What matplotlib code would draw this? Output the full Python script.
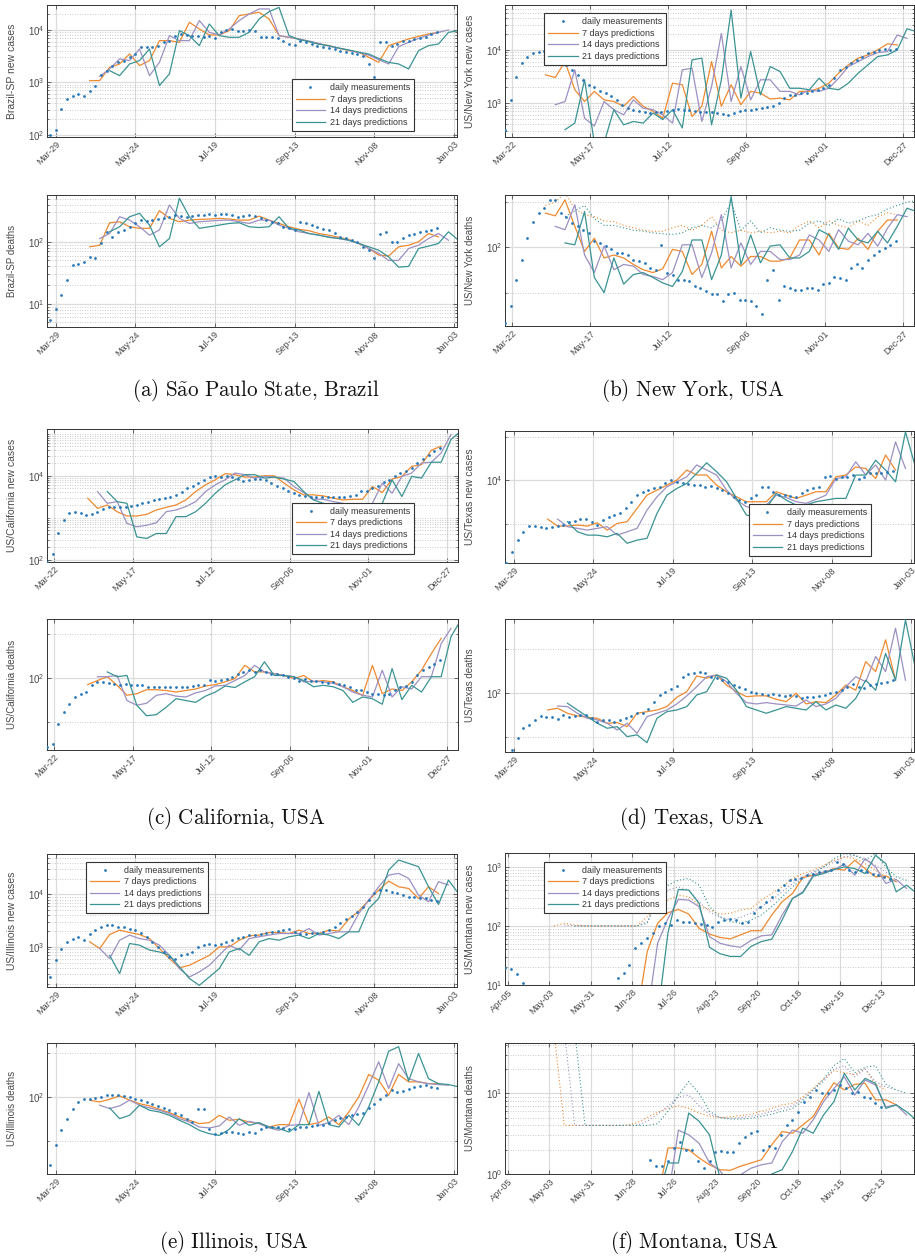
import numpy as np
import matplotlib
matplotlib.use("Agg")
import matplotlib.pyplot as plt
import matplotlib.dates as mdates
from matplotlib.lines import Line2D
from matplotlib.ticker import FixedLocator, NullFormatter, LogLocator

nan = np.nan

# ---------------- data ----------------
# measurements every 4 days, predictions every 7 days

# (a) Sao Paulo State
sp_cases_start = "2020-03-25"
sp_cases = [100, 120, 310, 480, 556, 600, 556, 690, 840, 1400, 1670, 2090, 2410, 2600, 3000, 3480,
            4660, 4660, 4800, 5000, 6000, 6250, 7800, 8400, 8000, 7800, 7560, 7240, 7800, 7000,
            9300, 10100, 10450, 9700, 9400, 10100, 9700, 7240, 7450, 7240, 6930, 6250, 5400, 5250,
            6080, 5810, 5400, 5020, 4660, 4530, 4330, 4030, 3750, 3590, 3480, 3140, 2240, 1250,
            5810, 5810, 5020, 5400, 6250, 6250, 6730, 6930, 7450, 8400, 9000]
sp_cases_p7_start = "2020-04-22"
sp_cases_p7 = [1077, 1077, 1937, 2240, 3480, 2090, 2600, 6250, 6250, 5810, 14000, 10450, 8030, 8030,
               9710, 18800, 20200, 21800, 16200, 7790, 7240, 6730, 6000, 5400, 5020, 4460, 4030,
               3750, 3000, 2410, 5020, 5810, 6730, 7560, 8400, 9000]
sp_cases_p14_start = "2020-04-29"
sp_cases_p14 = [1300, 1800, 2800, 2600, 4330, 1340, 2410, 7790, 6250, 6250, 15100, 9000, 8030, 10450,
                15100, 20200, 25200, 25200, 7790, 7240, 6730, 6160, 5560, 4900, 4500, 4100, 3700,
                3300, 2700, 2240, 4800, 5800, 6900, 8000, 9000, 10000]
sp_cases_p21_start = "2020-05-06"
sp_cases_p21 = [1670, 1340, 2240, 2600, 4330, 867, 1450, 9710, 7790, 5020, 13000, 7790, 7240, 7240,
                9000, 16200, 22400, 27000, 7800, 6540, 6000, 5330, 5000, 4500, 4150, 3750, 3480,
                2860, 2400, 2240, 1800, 4030, 5020, 5400, 9000, 9700]

sp_deaths_start = "2020-03-25"
sp_deaths = [5.4, 8.3, 13.7, 23.9, 41.9, 44.5, 47, 57, 54, 94, 145, 120, 145, 155, 175, 198, 224, 219,
             224, 230, 239, 254, 270, 260, 254, 260, 270, 270, 277, 270, 277, 277, 270, 254, 260, 270,
             260, 239, 224, 211, 203, 175, 165, 155, 211, 198, 186, 175, 159, 155, 140, 120, 113, 106,
             100, 83, 73, 54, 136, 145, 100, 100, 113, 128, 136, 145, 151, 155, 165]
sp_deaths_p7_start = "2020-04-22"
sp_deaths_p7 = [83, 88, 203, 211, 175, 165, 165, 318, 239, 211, 224, 230, 233, 239, 233, 224, 224, 260,
                224, 198, 175, 159, 151, 136, 128, 118, 109, 94, 78, 61, 59, 83, 88, 100, 136, 120]
sp_deaths_p14_start = "2020-04-29"
sp_deaths_p14 = [113, 136, 254, 224, 175, 128, 155, 393, 239, 198, 211, 216, 222, 224, 211, 198, 224, 224,
                 186, 165, 145, 136, 128, 120, 113, 106, 94, 78, 65, 50, 50, 78, 88, 113, 136, 106]
sp_deaths_p21_start = "2020-05-06"
sp_deaths_p21 = [145, 175, 254, 288, 186, 83, 113, 505, 254, 165, 175, 186, 198, 203, 175, 170, 175, 254,
                 165, 155, 136, 128, 118, 113, 106, 94, 83, 73, 57, 39, 40, 78, 85, 94, 145, 106]

# (b) New York
ny_cases_start = "2020-03-17"
ny_cases = [316, 1150, 3160, 5620, 7500, 8660, 9300, 9700, 8660, 7500, 6500, 5230, 4220, 3400, 2740,
            2210, 2000, 1660, 1540, 1330, 1150, 930, 800, 750, 700, 670, 650, 670, 670, 700, 750, 770,
            750, 730, 700, 680, 680, 670, 650, 630, 600, 650, 700, 730, 750, 770, 800, 840, 870, 1000,
            1240, 1430, 1430, 1540, 1580, 1660, 1780, 1900, 2210, 2940, 4220, 4870, 5620, 6490, 7290,
            8660, 9300, 10000, 10300, 10000, 10300]
ny_cases_p7_start = "2020-04-15"
ny_cases_p7 = [3400, 3030, 6040, 1780, 1070, 1660, 1150, 1070, 870, 1330, 870, 700, 520, 2370, 2210,
               560, 870, 6040, 870, 2210, 930, 1660, 1540, 1190, 1240, 1150, 1660, 1660, 1900, 2370,
               3650, 5230, 6980, 8060, 10000, 13000, 12400]
ny_cases_p14_start = "2020-04-22"
ny_cases_p14 = [930, 1070, 4220, 520, 370, 1070, 750, 600, 1150, 800, 750, 600, 420, 4220, 4530, 450,
                2050, 20500, 1070, 4870, 1150, 2740, 2740, 1660, 1660, 1430, 1780, 1660, 1900, 2940,
                4870, 6040, 7500, 8910, 9300, 19100, 16500]
ny_cases_p21_start = "2020-04-29"
ny_cases_p21 = [316, 420, 2740, 180, 180, 750, 390, 450, 420, 650, 490, 750, 340, 6490, 7000, 390, 2740,
                56000, 1240, 9300, 1430, 4870, 3930, 1900, 1900, 1780, 2940, 1900, 1780, 2370, 3650,
                5230, 7500, 8060, 10000, 25000, 22000]

ny_deaths_start = "2020-03-17"
ny_deaths = [31.5, 40.6, 61, 83, 115, 148, 169, 182, 207, 207, 169, 160, 145, 138, 131, 125, 110, 107,
             102, 97, 92, 92, 89, 83, 81, 79, 73, 71, 104, 68, 66, 61, 61, 60, 55, 54, 51, 49, 49, 44,
             49, 50, 45, 45, 44, 41, 36, 61, 71, 45, 55, 54, 52, 52, 54, 54, 52, 57, 58, 64, 63, 61,
             73, 77, 73, 83, 89, 94, 99, 104, 110]
ny_deaths_p7_start = "2020-04-15"
ny_deaths_p7 = [169, 162, 207, 138, 94, 115, 85, 89, 85, 77, 71, 68, 72, 97, 94, 66, 77, 128, 73, 87, 75,
                87, 87, 81, 81, 85, 112, 112, 89, 124, 99, 97, 115, 97, 128, 152, 152]
ny_deaths_p14_start = "2020-04-22"
ny_deaths_p14 = [138, 131, 192, 89, 68, 102, 71, 77, 75, 66, 64, 61, 68, 104, 104, 63, 92, 165, 73, 107,
                 77, 94, 94, 83, 83, 89, 121, 112, 94, 131, 110, 104, 124, 102, 134, 165, 160]
ny_deaths_p21_start = "2020-04-29"
ny_deaths_p21 = [107, 104, 173, 63, 50, 85, 57, 66, 68, 63, 58, 55, 69, 112, 112, 61, 89, 218, 77, 121,
                 79, 102, 104, 85, 85, 94, 131, 121, 97, 134, 112, 107, 128, 107, 138, 182, 173]
ny_deaths_d7_start = "2020-04-15"
ny_deaths_d7 = [190, 200, 230, 180, 165, 160, 150, 148, 140, 135, 130, 128, 128, 135, 140, 130, 140, 160,
                130, 125, 130, 125, 128, 125, 128, 125, 140, 150, 135, 150, 140, 135, 150, 140, 160, 170, 165]
ny_deaths_d21_start = "2020-04-29"
ny_deaths_d21 = [160, 175, 190, 155, 140, 140, 135, 130, 128, 125, 123, 122, 125, 135, 140, 135, 150, 200,
                 130, 150, 125, 135, 130, 128, 130, 145, 150, 140, 155, 145, 150, 160, 165, 180, 190, 200, 205]

# (c) California
ca_cases_start = "2020-03-17"
ca_cases = [88, 140, 421, 880, 1270, 1390, 1270, 1160, 1220, 1390, 1580, 1770, 1840, 1770, 1770, 1900,
            2000, 2200, 2420, 2650, 2750, 2920, 3200, 3500, 4200, 5060, 5750, 6670, 7730, 9290, 9650,
            9290, 9650, 9290, 8320, 7310, 8010, 8320, 8320, 7730, 6670, 5550, 5060, 4450, 3830, 3500,
            3310, 3190, 3080, 3190, 3190, 3080, 3080, 3190, 3310, 3500, 4450, 4450, 5060, 5750, 6920,
            8010, 9650, 11600, 12700, 15300, 20100, 25100, 31900, 38400, 46100]
ca_cases_p7_start = "2020-04-15"
ca_cases_p7 = [2920, 1670, 2010, 1390, 1100, 1100, 1200, 1530, 1770, 2010, 2650, 4200, 6080, 8010, 11200,
               10600, 9290, 9290, 10000, 10000, 6670, 4610, 3500, 3500, 3310, 2920, 2650, 2750, 2750,
               5550, 3980, 8320, 9650, 16700, 18400, 40600, 50700]
ca_cases_p14_start = "2020-04-22"
ca_cases_p14 = [4200, 2200, 2420, 730, 610, 660, 760, 1390, 1530, 1840, 2420, 4200, 6080, 8010, 11600,
                10600, 8790, 9650, 9290, 8790, 5550, 3980, 2750, 2750, 2420, 2200, 2010, 1670, 2200,
                6670, 3830, 9650, 11600, 20100, 21000, 35000, 96000]
ca_cases_p21_start = "2020-04-29"
ca_cases_p21 = [4200, 2420, 2200, 350, 320, 420, 420, 1060, 1060, 1390, 2200, 3830, 6080, 8010, 10600,
                10600, 8790, 9290, 8320, 7310, 4200, 2650, 2200, 2010, 1840, 1670, 1530, 1270, 2200, 8010,
                3190, 9650, 8790, 21000, 21000, 73000, 116000]

ca_deaths_start = "2020-03-17"
ca_deaths = [33.5, 35.3, 48.4, 58, 66, 74, 78, 80, 89, 94, 94, 92, 91, 90, 91, 90, 89, 90, 87, 87, 86,
             87, 86, 86, 86, 87, 88, 89, 90, 97, 96, 97, 99, 102, 106, 110, 113, 110, 113, 110, 107,
             106, 104, 102, 100, 96, 99, 96, 95, 94, 92, 94, 91, 89, 86, 83, 83, 80, 78, 78, 76, 78,
             82, 87, 88, 94, 104, 113, 119, 125, 132]
ca_deaths_p7_start = "2020-04-15"
ca_deaths_p7 = [90, 96, 102, 89, 76, 78, 83, 83, 82, 80, 82, 84, 88, 90, 94, 99, 122, 110, 110, 107, 104,
                99, 104, 94, 96, 94, 87, 82, 76, 122, 78, 84, 82, 94, 113, 147, 187]
ca_deaths_p14_start = "2020-04-22"
ca_deaths_p14 = [102, 102, 104, 70, 65, 67, 76, 78, 75, 74, 79, 82, 88, 89, 96, 104, 122, 110, 107, 104,
                 102, 94, 95, 94, 92, 87, 80, 76, 74, 113, 74, 87, 84, 102, 102, 172, 219]
ca_deaths_p21_start = "2020-04-29"
ca_deaths_p21 = [110, 102, 104, 65, 55, 56, 63, 72, 70, 68, 75, 80, 88, 86, 94, 102, 129, 104, 104, 102,
                 96, 87, 89, 87, 82, 68, 74, 72, 66, 116, 71, 89, 80, 102, 102, 192, 250]

# (d) Texas
tx_cases_start = "2020-03-24"
tx_cases = [2660, 3210, 3860, 4410, 4830, 4830, 4730, 4660, 4780, 4830, 4910, 5180, 5260, 5370, 5370,
            5180, 4910, 5310, 5610, 5750, 5910, 6400, 7120, 7910, 8350, 8570, 8800, 9040, 9530, 10050,
            9790, 9530, 9430, 9280, 9280, 9040, 9130, 8800, 8570, 8130, 7700, 7310, 7120, 7510, 7910,
            9040, 8950, 8350, 7910, 7910, 7790, 7700, 8130, 8570, 8800, 9040, 10600, 10700, 10300,
            10500, 10600, 10900, 10300, 10600, 11200, 11300, 11200, 11500, 11700]
tx_cases_p7_start = "2020-04-22"
tx_cases_p7 = [5400, 4830, 4830, 4910, 4830, 5090, 4530, 5040, 5180, 6400, 7910, 8570, 9280, 10050, 11800,
               10900, 10900, 9280, 8350, 7700, 7120, 7120, 7120, 8350, 7910, 7510, 7910, 8350, 8350,
               10600, 10900, 12400, 12100, 10300, 15000, 11800]
tx_cases_p14_start = "2020-04-29"
tx_cases_p14 = [5400, 4780, 4660, 4530, 4660, 4780, 4180, 4410, 4660, 6230, 7700, 9040, 9790, 10600,
                12800, 11800, 10900, 8570, 7310, 6580, 6400, 6760, 7910, 7620, 7120, 6940, 7390, 7910,
                10300, 10600, 13460, 10900, 12800, 10050, 18500, 12100]
tx_cases_p21_start = "2020-05-06"
tx_cases_p21 = [5180, 4410, 4180, 4180, 4070, 4300, 3670, 3860, 3970, 5910, 7910, 8800, 9530, 11200,
                13250, 11500, 9790, 7510, 5750, 5610, 6400, 8130, 7310, 6760, 6760, 7120, 7310, 7510,
                7510, 10900, 10900, 13800, 11800, 9790, 21700, 12400]

tx_deaths_start = "2020-03-28"
tx_deaths = [40.8, 49, 57.5, 60.6, 65.6, 69.9, 69.1, 69.1, 66.3, 71, 68.4, 69.9, 71, 71, 67.3, 63.9, 65.6,
             65.6, 63.9, 65.6, 67.3, 69.9, 72.9, 72.9, 77.6, 87.6, 97.4, 102.6, 106.5, 112, 130, 136.6,
             137, 141, 137, 130, 127, 123, 120, 114, 110, 106.5, 102.6, 100, 99, 97.4, 99, 97.4, 96, 97.4,
             96, 92.4, 94, 94, 96, 97.4, 100, 102.6, 105, 110, 116, 111, 108, 114, 116, 117, 120, 123]
tx_deaths_p7_start = "2020-04-22"
tx_deaths_p7 = [76.8, 78.9, 72.9, 69.9, 68.4, 67.3, 62.2, 62.9, 59, 72.9, 74.8, 76.8, 81, 94, 102.6, 131.5,
                127, 133.6, 114, 102.6, 94.9, 96, 96, 90.9, 87.6, 100, 84.5, 87.6, 86.3, 97.4, 114, 105,
                165, 141, 233, 123]
tx_deaths_p14_start = "2020-04-29"
tx_deaths_p14 = [81.8, 81, 72.9, 67.3, 65.6, 62.2, 56, 62.2, 53.1, 69.1, 72.9, 76.8, 84.5, 96, 111, 130,
                 133.6, 120, 100, 86.3, 84.5, 86.3, 84.5, 83.1, 81.8, 90, 81, 84.5, 92.4, 111, 130, 120,
                 179, 141, 280, 123]
tx_deaths_p21_start = "2020-05-06"
tx_deaths_p21 = [85.4, 76.8, 69.1, 62.2, 57.5, 59, 50.4, 51.8, 45.8, 67.3, 74.8, 76.8, 81, 97.4, 102.6,
                 133.6, 127, 105, 81, 76.8, 72.9, 76.8, 81, 78.9, 76.8, 87.6, 76.8, 83.1, 78.9, 92.4, 123,
                 105, 188, 123, 319, 148]

# (e) Illinois
il_cases_start = "2020-03-25"
il_cases = [267, 556, 930, 1250, 1440, 1560, 1340, 1800, 2090, 2410, 2600, 2600, 2410, 2410, 2170, 2090,
            1880, 1560, 1250, 1000, 800, 640, 600, 690, 740, 800, 1000, 1080, 1160, 1080, 1160, 1250,
            1340, 1490, 1560, 1680, 1720, 1800, 1880, 1940, 2000, 2090, 2240, 1940, 1800, 1800, 1880,
            1880, 1940, 2090, 2410, 2800, 3380, 3910, 4660, 5810, 7790, 10450, 12100, 12100, 11200,
            10450, 9710, 9020, 9020, 8640, 8390, 7790, 7460]
il_cases_p7_start = "2020-04-22"
il_cases_p7 = [1250, 930, 1720, 2090, 1880, 1720, 1440, 930, 600, 400, 445, 556, 690, 1000, 1000, 1340,
               1620, 1680, 1880, 1880, 1800, 2090, 1800, 1800, 2090, 2000, 3380, 4810, 7790, 12100, 17970,
               14000, 13000, 8390, 14000, 10450]
il_cases_p14_start = "2020-04-29"
il_cases_p14 = [930, 600, 1340, 1680, 1440, 1340, 1080, 690, 385, 267, 334, 445, 690, 1080, 870, 1440,
                1560, 1680, 1800, 1800, 1800, 2240, 1680, 1800, 1940, 1940, 4330, 7790, 14000, 23400,
                25200, 20200, 9710, 7240, 17500, 15100]
il_cases_p21_start = "2020-05-06"
il_cases_p21 = [690, 310, 1160, 1080, 870, 800, 690, 420, 250, 185, 267, 385, 800, 930, 690, 1250, 1440,
                1340, 1560, 1680, 1440, 1800, 1680, 1440, 1940, 1940, 5400, 8390, 29100, 45300, 39100,
                33800, 14000, 6450, 18800, 10450]

il_deaths_start = "2020-03-25"
il_deaths = [34.3, 46.9, 59.3, 71.2, 83.3, 92.5, 96.4, 97.4, 98.4, 100, 102.6, 103.7, 103.7, 101.6, 100,
             97.4, 95, 92.5, 90, 86.9, 84.2, 81.2, 78.3, 75, 71.2, 67.6, 82.4, 82.4, 60.9, 56.3, 57.1,
             57.8, 57.8, 57.1, 56.3, 57.8, 57.1, 60.9, 62.5, 62.5, 62.5, 61.6, 60.9, 60.3, 62.5, 62.5,
             63.5, 64.1, 64.8, 66.9, 69.4, 72, 73.1, 75.8, 77, 78.3, 84.2, 90, 97.4, 102.6, 111, 108,
             109, 114, 117, 119, 120, 117, 115]
il_deaths_p7_start = "2020-04-22"
il_deaths_p7 = [95, 92.5, 96.4, 101.6, 95, 90, 86.9, 82.4, 78.3, 73.1, 69.4, 65.9, 66.9, 75, 69.4, 70.4,
                67.6, 65.9, 62.5, 64.8, 64.8, 96.4, 64.8, 66.9, 73.1, 64.8, 79, 100, 142, 129.8, 102.6,
                142, 126.5, 126.5, 123, 123]
il_deaths_p14_start = "2020-04-29"
il_deaths_p14 = [87.8, 83.3, 86.9, 95, 87.8, 84.2, 81.2, 77, 71.2, 67.6, 62.5, 61.6, 63.5, 73.1, 64.1,
                 68.3, 65.9, 61.6, 59.3, 64.1, 64.8, 107, 64.1, 66.9, 75, 64.8, 85.5, 120, 173, 114, 168,
                 133, 126.5, 123, 121.3, 120]
il_deaths_p21_start = "2020-05-06"
il_deaths_p21 = [84.2, 71.2, 75, 87.8, 81.2, 79, 75, 69.4, 64.8, 59.3, 56.3, 54.8, 60.3, 71.2, 64.1, 66.9,
                 62.5, 60.9, 57.8, 64.8, 64.8, 109, 64.8, 62.5, 75, 64.1, 85.5, 126.5, 204, 219, 128, 197,
                 133, 123, 121.3, 117]

# (f) Montana
mt_cases_start = "2020-04-03"
mt_cases = [19.4, 18.5, 15.5, 11, nan, nan, nan, nan, nan, nan, nan, nan, nan, nan, nan, nan, nan, nan,
            nan, 13.2, 16.1, 21.9, 42.3, 51, 62, 75, 100, 111, 104, 126, 118, 118, 114, 108, 104, 95,
            118, 126, 129, 126, 111, 118, 164, 212, 257, 312, 405, 491, 596, 612, 661, 724, 772, 823,
            856, 879, 1214, 1138, 879, 823, 879, 823, 772, 724, 678, 636]
mt_cases_p7_start = "2020-07-01"
mt_cases_p7 = [3, 37, 111, 168, 190, 159, 91, 73, 64, 60.6, 70.6, 83, 83, 153, 257, 355, 661, 724, 803,
               937, 879, 1296, 937, 678, 705, 559]
mt_cases_p14_start = "2020-07-08"
mt_cases_p14 = [3, 51, 134, 281, 274, 212, 66, 51, 46, 43.6, 56.8, 68, 70.6, 153, 292, 379, 724, 823, 902,
                1110, 724, 1380, 1000, 524, 612, 432]
mt_cases_p21_start = "2020-07-15"
mt_cases_p21 = [3, 77, 415, 405, 241, 43.6, 33.9, 30.5, 30.5, 44.9, 54.4, 59.6, 126, 292, 365, 696, 772,
                902, 1000, 937, 772, 1570, 1138, 379, 491, 355]
mt_cases_d7_start = "2020-05-06"
mt_cases_d7 = [100, 111, 104, 100, 100, 100, 100, 100, 100, 144, 198, 274, 333, 312, 226, 186, 159, 164,
               186, 198, 274, 355, 460, 636, 772, 879, 1067, 1296, 1474, 1380, 1138, 879, 678]
mt_cases_d14_start = "2020-05-13"
mt_cases_d14 = [104, 100, 100, 100, 100, 100, 100, 100, 118, 241, 405, 460, 405, 257, 174, 140, 129, 140,
                164, 212, 274, 379, 524, 678, 823, 1000, 1214, 1474, 1570, 1380, 1067, 823, 596]
mt_cases_d21_start = "2020-05-20"
mt_cases_d21 = [100, 100, 100, 100, 100, 100, 100, 111, 312, 491, 596, 636, 491, 212, 144, 118, 111, 126,
                153, 212, 312, 460, 636, 772, 1000, 1380, 1680, 1570, 1296, 1680, 1000, 678, 596]

mt_deaths_start = "2020-07-10"
mt_deaths = [1.5, 1.25, 1.25, 1.43, 2.1, 2.5, 2.0, 2.0, 1.43, 1.18, 1.43, 1.9, 1.94, 1.9, 1.9, 2.4, 2.9,
             3.2, 3.4, 2.0, 2.2, 2.1, 3.06, 4.07, 4.7, 5.9, 7.9, 9.1, 11, 10, 10, 11, 12.7, 11.5, 10,
             10.5, 9.1, 8.7, 7.5, 6.8]
mt_deaths_p7_start = "2020-07-15"
mt_deaths_p7 = [0.5, 2.1, 2.1, 2.0, 1.58, 1.3, 1.13, 1.11, 1.25, 1.37, 1.5, 2.3, 3.36, 3.2, 4.07, 5.15,
                8.7, 13.5, 11, 12.9, 13.3, 8.3, 8.3, 7.2]
mt_deaths_p14_start = "2020-07-22"
mt_deaths_p14 = [0.5, 3.5, 3.06, 2.4, 1.37, 1.1, 0.74, 0.98, 1.18, 1.3, 1.37, 2.5, 3.5, 3.2, 4.7, 7.9,
                 11.5, 16, 9.5, 14.6, 12.7, 6.8, 7.2, 5.4]
mt_deaths_p21_start = "2020-07-15"
mt_deaths_p21 = [0.5, 1.37, 1.37, 5.7, 4.5, 3.06, 0.9, 0.5, 0.5, 0.5, 0.5, 1.0, 1.13, 1.9, 3.7, 3.2, 5.4,
                 7.9, 17.7, 11, 15.3, 13.3, 6.5, 7.2, 5.9, 4.6]
mt_deaths_d7_start = "2020-05-06"
mt_deaths_d7 = [60, 4.0, 4.0, 4.0, 4.0, 4.0, 4.0, 4.0, 4.3, 5.0, 5.8, 6.5, 7.0, 6.5, 5.7, 5.2, 5.0, 5.1,
                5.3, 5.5, 6.0, 6.5, 7.2, 7.5, 9.0, 11.5, 15, 19, 18, 17, 20, 13, 11]
mt_deaths_d14_start = "2020-05-13"
mt_deaths_d14 = [60, 4.0, 4.0, 4.0, 4.0, 4.0, 4.0, 4.0, 4.5, 5.5, 7, 9, 9.5, 7, 5.5, 5.0, 4.9, 5.0, 5.2,
                 5.5, 6, 6.5, 7, 8.5, 11, 14, 20, 22, 16, 20, 14, 12, 11]
mt_deaths_d21_start = "2020-05-20"
mt_deaths_d21 = [60, 4.0, 4.0, 4.0, 4.0, 4.0, 4.0, 4.0, 4.2, 6, 9.5, 14, 10, 6, 5.0, 4.8, 4.8, 4.9, 5.2,
                 5.5, 6, 6.5, 8, 11, 15, 22, 27, 18, 21, 22, 13, 11, 10]

legend_labels = ["daily measurements", "7 days predictions", "14 days predictions", "21 days predictions"]
captions = ["(a)\\ S\\tilde{a}o\\ Paulo\\ State{,}\\ Brazil", "(b)\\ New\\ York{,}\\ USA",
            "(c)\\ California{,}\\ USA", "(d)\\ Texas{,}\\ USA", "(e)\\ Illinois{,}\\ USA",
            "(f)\\ Montana{,}\\ USA"]

# ---------------- style ----------------
plt.rcParams["font.family"] = ["Liberation Sans", "DejaVu Sans"]
plt.rcParams["mathtext.fontset"] = "custom"
plt.rcParams["mathtext.rm"] = "Liberation Sans"
plt.rcParams["mathtext.it"] = "Liberation Sans:italic"
plt.rcParams["mathtext.bf"] = "Liberation Sans:bold"

C_MEAS = "#2878b8"
C7 = "#ee8a30"
C14 = "#9d90c2"
C21 = "#3b9393"
TXT = "#4a4a4a"

W, H = 915, 1257
fig = plt.figure(figsize=(W / 100, H / 100), dpi=100)


def add_ax(x0, x1, ytop, ybot):
    return fig.add_axes([x0 / W, 1 - ybot / H, (x1 - x0) / W, (ybot - ytop) / H])


def dates(start, n, step):
    return np.datetime64(start) + np.arange(n) * np.timedelta64(step, "D")


def draw(ax, meas, preds, ylim, xlim, tick0, tstep, ylabel, lsize, minor=None, major=None,
         dotted=(), leg=None):
    ax.set_yscale("log")
    for (st, vals), c in dotted:
        ax.plot(dates(st, len(vals), 7), vals, ls=(0, (1, 2)), lw=0.8, color=c, zorder=2)
    for (st, vals), c in zip(preds, [C7, C14, C21]):
        ax.plot(dates(st, len(vals), 7), vals, lw=0.9, color=c, zorder=3)
    st, vals = meas
    ax.plot(dates(st, len(vals), 4), vals, ls="none", marker="o", ms=2.0, mew=0, color=C_MEAS, zorder=4)

    x0, x1 = np.datetime64(xlim[0]), np.datetime64(xlim[1])
    ax.set_xlim(mdates.date2num(x0), mdates.date2num(x1))
    ax.set_ylim(*ylim)
    ticks = np.arange(np.datetime64(tick0), x1 + np.timedelta64(1, "D"), np.timedelta64(tstep, "D"))
    ax.set_xticks(mdates.date2num(ticks))
    ax.xaxis.set_major_formatter(mdates.DateFormatter("%b-%d"))
    if major is None:
        ax.yaxis.set_major_locator(LogLocator(base=10, subs=(1.0,)))
    else:
        ax.yaxis.set_major_locator(FixedLocator(major))
    if minor is None:
        ax.yaxis.set_minor_locator(LogLocator(base=10, subs=np.arange(1, 10)))
    else:
        ax.yaxis.set_minor_locator(FixedLocator(minor))
    ax.yaxis.set_minor_formatter(NullFormatter())

    ax.set_axisbelow(True)
    ax.grid(True, which="major", color="#dcdcdc", lw=0.9)
    ax.grid(True, which="minor", axis="y", color="#b8b8b8", ls=(0, (1, 2)), lw=0.6)
    for s in ax.spines.values():
        s.set_color("#333333")
        s.set_linewidth(0.7)
    ax.tick_params(which="both", direction="in", top=True, right=True, color="#333333",
                   labelcolor=TXT, width=0.5)
    ax.tick_params(which="major", length=3)
    ax.tick_params(which="minor", length=1.5)
    ax.tick_params(axis="x", labelsize=6.6, pad=2)
    ax.tick_params(axis="y", labelsize=7, pad=2)
    for lab in ax.get_xticklabels():
        lab.set_rotation(45)
        lab.set_ha("right")
        lab.set_rotation_mode("anchor")
    ax.set_ylabel(ylabel, fontsize=lsize, color=TXT)
    ax.yaxis.set_label_coords(-0.073, 0.5)

    if leg is not None:
        loc, anchor = leg
        handles = [Line2D([], [], ls="none", marker="o", ms=2.0, mew=0, color=C_MEAS),
                   Line2D([], [], lw=0.9, color=C7),
                   Line2D([], [], lw=0.9, color=C14),
                   Line2D([], [], lw=0.9, color=C21)]
        lg = ax.legend(handles, legend_labels, loc=loc, bbox_to_anchor=anchor, fontsize=6.4,
                       frameon=True, fancybox=False, framealpha=1, edgecolor="#333333",
                       handlelength=3.3, handletextpad=0.5, borderaxespad=0, borderpad=0.45,
                       labelspacing=0.28)
        lg.get_frame().set_linewidth(0.8)
        lg.set_zorder(10)
        for t in lg.get_texts():
            t.set_color("#333333")


x_sp = ("2020-03-23", "2021-01-05")
x_ny = ("2020-03-17", "2021-01-04")
x_mt = ("2020-04-03", "2021-01-04")

# (a)
draw(add_ax(47, 457, 5, 137), (sp_cases_start, sp_cases),
     [(sp_cases_p7_start, sp_cases_p7), (sp_cases_p14_start, sp_cases_p14), (sp_cases_p21_start, sp_cases_p21)],
     (90, 3.0e4), x_sp, "2020-03-29", 56, "Brazil-SP new cases", 7.5,
     leg=("lower left", (0.597, 0.048)))
draw(add_ax(47, 457, 195, 327), (sp_deaths_start, sp_deaths),
     [(sp_deaths_p7_start, sp_deaths_p7), (sp_deaths_p14_start, sp_deaths_p14), (sp_deaths_p21_start, sp_deaths_p21)],
     (4.2, 570), x_sp, "2020-03-29", 56, "Brazil-SP deaths", 7)

# (b)
draw(add_ax(505, 914, 5, 137), (ny_cases_start, ny_cases),
     [(ny_cases_p7_start, ny_cases_p7), (ny_cases_p14_start, ny_cases_p14), (ny_cases_p21_start, ny_cases_p21)],
     (230, 7.0e4), x_ny, "2020-03-22", 56, "US/New York new cases", 7.5,
     leg=("upper left", (0.096, 0.937)))
draw(add_ax(505, 914, 195, 326), (ny_deaths_start, ny_deaths),
     [(ny_deaths_p7_start, ny_deaths_p7), (ny_deaths_p14_start, ny_deaths_p14), (ny_deaths_p21_start, ny_deaths_p21)],
     (30, 223), x_ny, "2020-03-22", 56, "US/New York deaths", 7, minor=[50, 200],
     dotted=[((ny_deaths_d7_start, ny_deaths_d7), C7), ((ny_deaths_d21_start, ny_deaths_d21), C21)])

# (c)
draw(add_ax(47, 458, 429, 562), (ca_cases_start, ca_cases),
     [(ca_cases_p7_start, ca_cases_p7), (ca_cases_p14_start, ca_cases_p14), (ca_cases_p21_start, ca_cases_p21)],
     (88, 1.3e5), x_ny, "2020-03-22", 56, "US/California new cases", 7.5, major=[1e2, 1e4],
     leg=("lower left", (0.597, 0.058)))
draw(add_ax(47, 458, 619, 750), (ca_deaths_start, ca_deaths),
     [(ca_deaths_p7_start, ca_deaths_p7), (ca_deaths_p14_start, ca_deaths_p14), (ca_deaths_p21_start, ca_deaths_p21)],
     (32, 254), x_ny, "2020-03-22", 56, "US/California deaths", 7, minor=[50, 200])

# (d)
draw(add_ax(505, 914, 431, 563), (tx_cases_start, tx_cases),
     [(tx_cases_p7_start, tx_cases_p7), (tx_cases_p14_start, tx_cases_p14), (tx_cases_p21_start, tx_cases_p21)],
     (2680, 22000), x_sp, "2020-03-29", 56, "US/Texas new cases", 7.5, minor=[5000, 20000],
     leg=("lower left", (0.596, 0.055)))
draw(add_ax(505, 914, 619, 752), (tx_deaths_start, tx_deaths),
     [(tx_deaths_p7_start, tx_deaths_p7), (tx_deaths_p14_start, tx_deaths_p14), (tx_deaths_p21_start, tx_deaths_p21)],
     (39.5, 324), x_sp, "2020-03-29", 56, "US/Texas deaths", 7, minor=[50, 200])

# (e)
draw(add_ax(47, 457, 854, 987), (il_cases_start, il_cases),
     [(il_cases_p7_start, il_cases_p7), (il_cases_p14_start, il_cases_p14), (il_cases_p21_start, il_cases_p21)],
     (172, 5.9e4), x_sp, "2020-03-29", 56, "US/Illinois new cases", 7.5,
     leg=("upper left", (0.095, 0.942)))
draw(add_ax(47, 457, 1043, 1174), (il_deaths_start, il_deaths),
     [(il_deaths_p7_start, il_deaths_p7), (il_deaths_p14_start, il_deaths_p14), (il_deaths_p21_start, il_deaths_p21)],
     (30, 232), x_sp, "2020-03-29", 56, "US/Illinois deaths", 7, minor=[50, 200])

# (f)
draw(add_ax(505, 914, 853, 985), (mt_cases_start, mt_cases),
     [(mt_cases_p7_start, mt_cases_p7), (mt_cases_p14_start, mt_cases_p14), (mt_cases_p21_start, mt_cases_p21)],
     (10, 1720), x_mt, "2020-04-05", 28, "US/Montana new cases", 7.5,
     dotted=[((mt_cases_d7_start, mt_cases_d7), C7), ((mt_cases_d14_start, mt_cases_d14), C14),
             ((mt_cases_d21_start, mt_cases_d21), C21)],
     leg=("upper left", (0.096, 0.932)))
draw(add_ax(505, 914, 1043, 1174), (mt_deaths_start, mt_deaths),
     [(mt_deaths_p7_start, mt_deaths_p7), (mt_deaths_p14_start, mt_deaths_p14), (mt_deaths_p21_start, mt_deaths_p21)],
     (1, 42), x_mt, "2020-04-05", 28, "US/Montana deaths", 7,
     dotted=[((mt_deaths_d7_start, mt_deaths_d7), C7), ((mt_deaths_d14_start, mt_deaths_d14), C14),
             ((mt_deaths_d21_start, mt_deaths_d21), C21)])

# captions (serif, Computer Modern look)
cap_pos = [(256, 390), (693, 390), (236, 818), (692, 818), (234, 1242), (694, 1242)]
for cap, (cx, cy) in zip(captions, cap_pos):
    fig.text(cx / W, 1 - cy / H, "$\\mathrm{" + cap + "}$", ha="center", va="center",
             fontsize=15.2, color="#111111", math_fontfamily="cm")

fig.savefig("out.png", dpi=100)
